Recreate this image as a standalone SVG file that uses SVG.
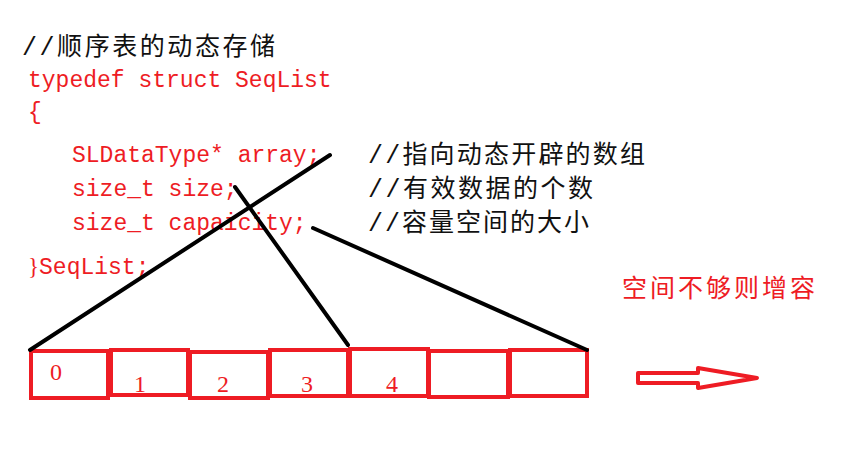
<svg xmlns="http://www.w3.org/2000/svg" width="867" height="452" viewBox="0 0 867 452">
<style>
.code{font-family:"Liberation Mono",monospace;font-size:23px;fill:#ee1c24}
.cm{font-family:"Liberation Mono","Noto Sans CJK SC",monospace;font-size:25px;fill:#111}
.cell{fill:none;stroke:#ee1c24;stroke-width:4}
.num{font-family:"Liberation Serif",serif;font-size:24px;fill:#ee1c24}
.ln{stroke:#000;stroke-width:4;stroke-linecap:round}
</style>
<rect width="867" height="452" fill="#fff"/>
<g id="code">
<text class="cm" x="22" y="55" textLength="253" lengthAdjust="spacing">//顺序表的动态存储</text>
<text class="code" x="28" y="87">typedef struct SeqList</text>
<text class="code" x="28" y="119" font-family="Liberation Serif">{</text>
<text class="code" x="72" y="162">SLDataType* array;</text>
<text class="code" x="72" y="196">size_t size;</text>
<text class="code" x="72" y="230">size_t capaicity;</text>
<text class="code" x="28" y="274"><tspan font-family="Liberation Serif">}</tspan>SeqList;</text>
<text class="cm" x="368" y="163" textLength="277" lengthAdjust="spacing">//指向动态开辟的数组</text>
<text class="cm" x="368" y="197" textLength="225" lengthAdjust="spacing">//有效数据的个数</text>
<text class="cm" x="368" y="231" textLength="221" lengthAdjust="spacing">//容量空间的大小</text>
<text x="622" y="297" font-family="Noto Sans CJK SC,sans-serif" font-size="25" fill="#ee1c24" textLength="193" lengthAdjust="spacing">空间不够则增容</text>
</g>
<g id="cells">
<rect class="cell" x="31" y="351" width="77" height="47"/>
<rect class="cell" x="111" y="350" width="77" height="45"/>
<rect class="cell" x="190" y="352" width="78" height="46"/>
<rect class="cell" x="270" y="350" width="78" height="46"/>
<rect class="cell" x="350" y="349" width="78" height="47"/>
<rect class="cell" x="429" y="351" width="79" height="46"/>
<rect class="cell" x="510" y="350" width="77" height="46"/>
<text class="num" x="50" y="380">0</text>
<text class="num" x="134" y="392">1</text>
<text class="num" x="217" y="392">2</text>
<text class="num" x="301" y="392">3</text>
<text class="num" x="386" y="392">4</text>
</g>
<g id="connectors">
<line class="ln" x1="30" y1="350" x2="330" y2="155"/>
<line class="ln" x1="235" y1="187" x2="348" y2="345"/>
<line class="ln" x1="313" y1="228" x2="587" y2="350"/>
</g>
<g id="arrow">
<polygon points="638,373 698,373 698,368 757,378 698,388 698,383 638,383" fill="none" stroke="#ee1c24" stroke-width="4" stroke-linejoin="round"/>
</g>
</svg>
